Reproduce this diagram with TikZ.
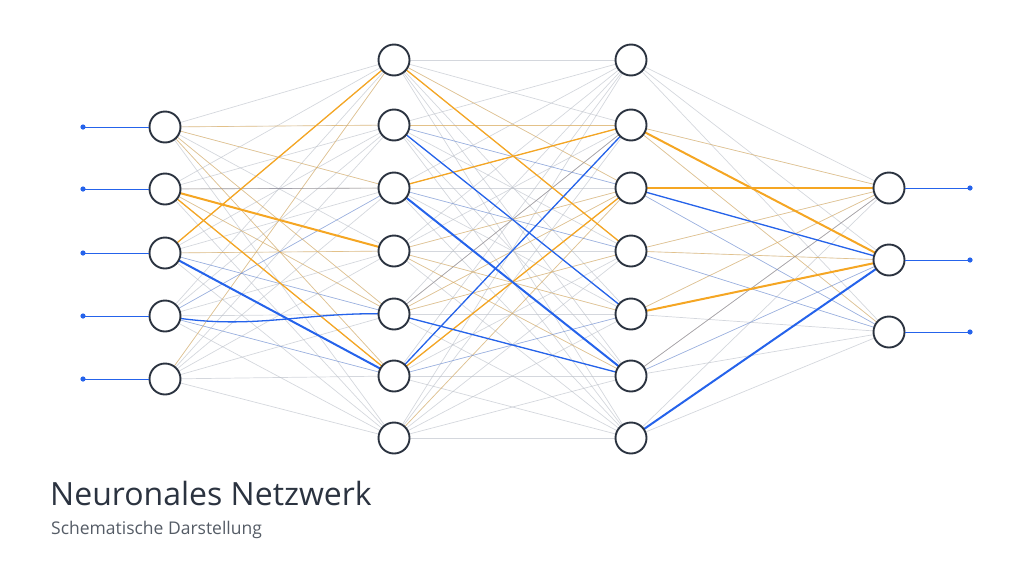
\documentclass[tikz,border=0pt]{standalone}
\usepackage{fontspec}
\setmainfont{Open Sans}
\definecolor{nodeline}{HTML}{2B3340}
\definecolor{netorange}{HTML}{F5A623}
\definecolor{netblue}{HTML}{2563EB}
\definecolor{netgrey}{HTML}{B8BDC6}
\tikzset{
  neuron/.style={circle, draw=nodeline, line width=1.9pt, fill=white, minimum size=31pt, inner sep=0pt},
  edge/.style={netgrey, line width=0.7pt, opacity=0.6},
  faintor/.style={netorange, line width=0.6pt, opacity=0.45},
  faintbl/.style={netblue, line width=0.6pt, opacity=0.35},
  hior/.style={netorange, line width=1.3pt},
  hibl/.style={netblue, line width=1.3pt},
  thickor/.style={netorange, line width=2pt},
  thickbl/.style={netblue, line width=2pt},
}
\begin{document}
\begin{tikzpicture}[x=1pt, y=-1pt]
    \useasboundingbox (0,0) rectangle (1024,576);
    % Node positions
    \foreach \i/\y in {1/127,2/189,3/253,4/316,5/379}
        \coordinate (i\i) at (165,\y);
    \foreach \i/\y in {1/60,2/125,3/188,4/251,5/314,6/376,7/438} {
        \coordinate (a\i) at (394,\y);
        \coordinate (b\i) at (631,\y);
    }
    \foreach \i/\y in {1/188,2/260,3/332}
        \coordinate (o\i) at (889,\y);

    % All connections (grey)
    \foreach \i in {1,...,5}
        \foreach \j in {1,...,7}
            \draw[edge] (i\i) -- (a\j);
    \foreach \i in {1,...,7}
        \foreach \j in {1,...,7}
            \draw[edge] (a\i) -- (b\j);
    \foreach \i in {1,...,7}
        \foreach \j in {1,...,3}
            \draw[edge] (b\i) -- (o\j);

    % Faint coloured weights
    \foreach \s/\t in {i1/a2,i1/a3,i1/a5,i1/a6,i2/a3,i2/a5,i3/a4,i5/a1,a1/b3,a2/b2,a4/b3,a4/b5,a4/b6,a5/b2,a5/b3,a5/b4,a7/b3,b2/o1,b4/o1,b4/o2,b6/o1,b5/o1,b2/o3}
        \draw[faintor] (\s) -- (\t);
    \foreach \s/\t in {i3/a5,i4/a3,i4/a6,i2/a3,a2/b3,a3/b4,a5/b2,a6/b5,b3/o3,b5/o2,b6/o1,b6/o2,b4/o3}
        \draw[faintbl] (\s) -- (\t);

    % Strong weights
    \draw[hior] (i3) -- (a1);
    \draw[hior] (i2) -- (a6);
    \draw[thickor] (i2) -- (a4);
    \draw[thickbl] (i3) -- (a6);
    \draw[hibl] (i4) to[out=-10, in=178] (a5);
    \draw[hior] (a1) -- (b4);
    \draw[hior] (a3) -- (b2);
    \draw[hior] (a6) -- (b3);
    \draw[hibl] (a6) -- (b2);
    \draw[thickbl] (a3) -- (b6);
    \draw[hibl] (a2) -- (b5);
    \draw[hibl] (a5) -- (b6);
    \draw[thickor] (b2) -- (o2);
    \draw[hior] (b3) -- (o1);
    \draw[hibl] (b3) -- (o2);
    \draw[thickor] (b5) -- (o2);
    \draw[thickbl] (b7) -- (o2);

    % Neurons
    \foreach \n in {i1,i2,i3,i4,i5,a1,a2,a3,a4,a5,a6,a7,b1,b2,b3,b4,b5,b6,b7,o1,o2,o3}
        \node[neuron] (n\n) at (\n) {};

    % Inputs and outputs
    \foreach \k/\y in {1/127,2/189,3/253,4/316,5/379} {
        \coordinate (in\k) at (83,\y);
        \draw[netblue, line width=1pt] (in\k) -- (ni\k);
        \fill[netblue] (in\k) circle (2.6pt);
    }
    \foreach \k/\y in {1/188,2/260,3/332} {
        \coordinate (out\k) at (970,\y);
        \draw[netblue, line width=1pt] (no\k) -- (out\k);
        \fill[netblue] (out\k) circle (2.6pt);
    }

    % Title
    \node[anchor=base west, text=nodeline, font=\fontsize{32}{36}\selectfont, inner sep=0pt] (title) at (50,505) {Neuronales Netzwerk};
    \node[anchor=base west, text=nodeline!80, font=\fontsize{17.5}{20}\selectfont, inner sep=0pt] (sub) at (51,534) {Schematische Darstellung};
\end{tikzpicture}
\end{document}
